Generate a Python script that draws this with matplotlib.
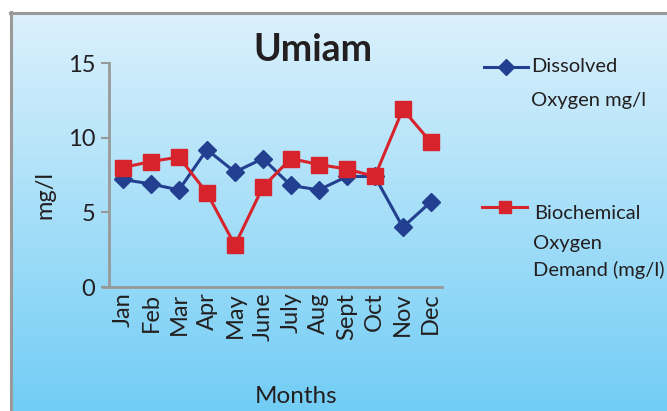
import matplotlib
matplotlib.use('Agg')
import matplotlib.pyplot as plt
from matplotlib.lines import Line2D
import numpy as np

# ---------------------------------------------------------------------------
# Data
# ---------------------------------------------------------------------------
months = ['Jan', 'Feb', 'Mar', 'Apr', 'May', 'June', 'July', 'Aug',
          'Sept', 'Oct', 'Nov', 'Dec']
dissolved_oxygen = [7.2, 6.9, 6.5, 9.2, 7.7, 8.6, 6.8, 6.5, 7.4, 7.4, 4.0, 5.7]
bod = [8.0, 8.4, 8.7, 6.3, 2.8, 6.7, 8.6, 8.2, 7.9, 7.4, 11.9, 9.7]
y_ticks = [0, 5, 10, 15]
do_label = ['Dissolved', 'Oxygen mg/l']
bod_label = ['Biochemical', 'Oxygen', 'Demand (mg/l)']

_BLUE = '#233f8f'
_RED = '#d7232b'
_GREY = '#999999'
_TEXT = '#231f20'
_FONT = ['Lato', 'DejaVu Sans']

W, H = 667, 411
fig = plt.figure(figsize=(W / 100, H / 100), dpi=100)
fig.patch.set_facecolor('white')


def fx(px):
    return px / W


def fy(py):
    return 1 - py / H


# gradient background panel
bg = fig.add_axes([fx(10), 0, 1 - fx(10), fy(12)], zorder=-5)
grad = np.linspace(0, 1, 256)[:, None]
top = np.array([0xdc, 0xf1, 0xfc]) / 255
bot = np.array([0x72, 0xcd, 0xf5]) / 255
img = top[None, None, :] * (1 - grad[..., None]) + bot[None, None, :] * grad[..., None]
bg.imshow(img, aspect='auto', extent=(0, 1, 0, 1), interpolation='bilinear')
bg.set_xlim(0, 1)
bg.set_ylim(0, 1)
bg.axis('off')
fig.add_artist(Line2D([fx(11), fx(11)], [0, fy(12)], color='#9a9a9a', lw=2.2))
fig.add_artist(Line2D([fx(10), 1], [fy(13), fy(13)], color='#9a9a9a', lw=2.2))

# main axes
ax = fig.add_axes([fx(109), fy(287), 333 / W, 224 / H])
ax.patch.set_alpha(0)
x = np.arange(len(months))
ax.plot(x, dissolved_oxygen, color=_BLUE, lw=2.2, marker='D',
        markersize=9, clip_on=False)
ax.plot(x, bod, color=_RED, lw=2.2, marker='s', markersize=11, clip_on=False)

ax.set_xlim(-0.5, 11.4)
ax.set_ylim(0, 15)
ax.set_yticks(y_ticks)
ax.set_xticks(x)
ax.set_xticklabels(months, rotation=90, fontsize=17, family=_FONT, color=_TEXT)
for lab in ax.get_yticklabels():
    lab.set_fontsize(17)
    lab.set_family(_FONT)
    lab.set_color(_TEXT)
ax.tick_params(axis='x', length=0, pad=4)
ax.tick_params(axis='y', length=6, width=1.5, color=_GREY, pad=4)
for side in ('top', 'right'):
    ax.spines[side].set_visible(False)
for side in ('left', 'bottom'):
    ax.spines[side].set_color(_GREY)
    ax.spines[side].set_linewidth(2)
ax.spines['bottom'].set_bounds(-0.72, 11.4)

fig.text(fx(45), fy(195), 'mg/l', rotation=90, ha='center', va='center',
         fontsize=17, family=_FONT, color=_TEXT)
fig.text(fx(296), fy(396), 'Months', ha='center', va='center',
         fontsize=17.5, family=_FONT, color=_TEXT)
fig.text(fx(313), fy(50), 'Umiam', ha='center', va='center',
         fontsize=27, fontweight='bold', family=_FONT, color=_TEXT)

# legend keys
fig.add_artist(Line2D([fx(484), fx(528)], [fy(67), fy(67)], color=_BLUE, lw=2.2))
fig.add_artist(Line2D([fx(506)], [fy(67)], color=_BLUE, marker='D', markersize=8))
fig.add_artist(Line2D([fx(482), fx(527)], [fy(207), fy(207)], color=_RED, lw=2.2))
fig.add_artist(Line2D([fx(505)], [fy(207)], color=_RED, marker='s', markersize=9))
for txt, (px, py) in zip(do_label, [(531, 67), (531, 100)]):
    fig.text(fx(px), fy(py), txt, ha='left', va='center', fontsize=14.5,
             family=_FONT, color=_TEXT)
for txt, (px, py) in zip(bod_label, [(534, 213), (533, 243), (533, 270)]):
    fig.text(fx(px), fy(py), txt, ha='left', va='center', fontsize=14.5,
             family=_FONT, color=_TEXT)

fig.savefig('out.png', dpi=100)
